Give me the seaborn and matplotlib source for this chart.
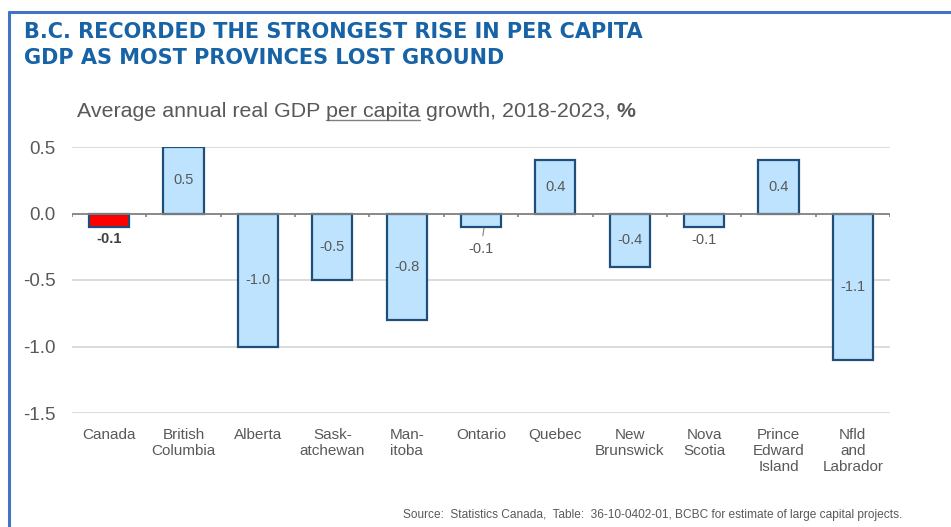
import numpy as np
import pandas as pd
import matplotlib
matplotlib.use("Agg")
import matplotlib.pyplot as plt
from matplotlib.lines import Line2D
import seaborn as sns

# data
regions = ["Canada", "British\nColumbia", "Alberta", "Sask-\natchewan", "Man-\nitoba",
           "Ontario", "Quebec", "New\nBrunswick", "Nova\nScotia", "Prince\nEdward\nIsland",
           "Nfld\nand\nLabrador"]
growth = [-0.1, 0.5, -1.0, -0.5, -0.8, -0.1, 0.4, -0.4, -0.1, 0.4, -1.1]
bar_colors = ["#FF0000"] + ["#BDE3FF"] * 10
value_labels = ["-0.1", "0.5", "-1.0", "-0.5", "-0.8", "-0.1", "0.4", "-0.4", "-0.1", "0.4", "-1.1"]
y_ticks = [0.5, 0.0, -0.5, -1.0, -1.5]

df = pd.DataFrame({"region": regions, "growth": growth})

sns.set_theme(style="white")
plt.rcParams["font.family"] = ["Liberation Sans", "DejaVu Sans"]

W, H = 951, 527
fig = plt.figure(figsize=(W / 100, H / 100), dpi=100)
ax = fig.add_axes([72 / W, 1 - 413 / H, (890 - 72) / W, (413 - 147) / H])

sns.barplot(data=df, x="region", y="growth", hue="region", palette=bar_colors,
            saturation=1, legend=False, width=0.54, edgecolor="#1F4E79",
            linewidth=1.6, ax=ax, zorder=3)

ax.set_xlim(-0.5, len(regions) - 0.5)
ax.set_ylim(-1.5, 0.5)
ax.set_yticks(y_ticks)
ax.set_yticklabels([f"{v:.1f}" for v in y_ticks])
ax.tick_params(axis="y", length=0, pad=12, labelsize=13.5, labelcolor="#595959")
ax.tick_params(axis="x", length=0, pad=11, labelsize=11, labelcolor="#595959")
for lab in ax.get_xticklabels():
    lab.set_linespacing(1.15)
ax.set_xlabel("")
ax.set_ylabel("")
for s in ax.spines.values():
    s.set_visible(False)

# gridlines and zero axis with boundary ticks
for v in y_ticks:
    if v != 0:
        ax.axhline(v, color="#D9D9D9", lw=1.3, zorder=0)
ax.axhline(0, color="#808080", lw=1.3, zorder=4)
ax.vlines(np.arange(-0.5, len(regions)), -0.03, 0, color="#808080", lw=1.2, zorder=4)

# value labels
for i, (v, txt) in enumerate(zip(growth, value_labels)):
    if i == 0:
        ax.text(i, v - 0.09, txt, ha="center", va="center", fontsize=10.5,
                fontweight="bold", color="#404040", zorder=5)
    elif i == 5:
        ax.annotate(txt, xy=(i + 0.04, v - 0.01), xytext=(i, v - 0.165), ha="center",
                    va="center", fontsize=10.5, color="#595959", zorder=5,
                    arrowprops=dict(arrowstyle="-", color="#808080", lw=0.8,
                                    shrinkA=2, shrinkB=0))
    elif abs(v) < 0.2:
        ax.text(i, v - 0.1, txt, ha="center", va="center", fontsize=10.5,
                color="#595959", zorder=5)
    else:
        ax.text(i, v / 2, txt, ha="center", va="center", fontsize=10.5,
                color="#595959", zorder=5)

# frame lines (left and top)
fig.add_artist(Line2D([9 / W, 9 / W], [0, 1 - 12 / H], color="#4472C4", lw=2.2))
fig.add_artist(Line2D([9 / W, 1], [1 - 12 / H, 1 - 12 / H], color="#4472C4", lw=2.2))

# title
title_color = "#1763A6"
fig.text(24 / W, 1 - 32.5 / H, "B.C. RECORDED THE STRONGEST RISE IN PER CAPITA",
         fontsize=15, fontweight="bold", color=title_color, va="center", ha="left",
         family="DejaVu Sans")
fig.text(24 / W, 1 - 58 / H, "GDP AS MOST PROVINCES LOST GROUND",
         fontsize=15, fontweight="bold", color=title_color, va="center", ha="left",
         family="DejaVu Sans")

# subtitle with underlined and bold pieces
renderer = fig.canvas.get_renderer()
sub_parts = [("Average annual real GDP ", "normal", False),
             ("per capita", "normal", True),
             (" growth, 2018-2023, ", "normal", False),
             ("%", "bold", False)]
x_px = 77
base_px = H - 117
for txt, weight, underline in sub_parts:
    t = fig.text(x_px / W, base_px / H, txt, fontsize=15.4, fontweight=weight,
                 color="#595959", va="baseline", ha="left")
    bb = t.get_window_extent(renderer=renderer)
    if underline:
        fig.add_artist(Line2D([bb.x0 / W, bb.x1 / W], [(base_px - 3) / H] * 2,
                              color="#808080", lw=1.0))
    x_px = bb.x1

# source
fig.text(902 / W, 1 - 515 / H,
         "Source:  Statistics Canada,  Table:  36-10-0402-01, BCBC for estimate of large capital projects.",
         fontsize=8.6, color="#595959", ha="right", va="center")

fig.savefig("out.png", dpi=100, facecolor="white")
